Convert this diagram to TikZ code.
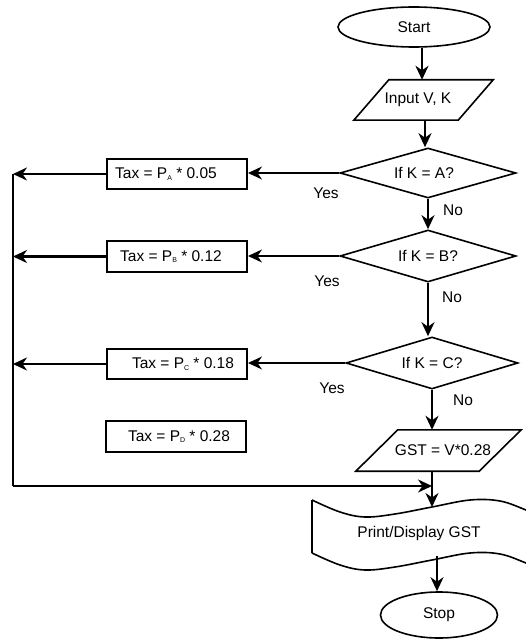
\documentclass[tikz,border=0pt]{standalone}
\usepackage{fontspec}
\setmainfont{Liberation Sans}
\usetikzlibrary{shapes.geometric,arrows.meta,calc}

% small lowered index letter used in P_A, P_B, ...
\newcommand{\psub}[1]{\raisebox{-1.8pt}{\fontsize{7}{7}\selectfont #1}}

\begin{document}
\begin{tikzpicture}[x=1pt,y=-1pt,
  every node/.style={font=\fontsize{15.5}{18}\selectfont, inner sep=0pt},
  term/.style={ellipse, draw, line width=1.6pt},
  decision/.style={diamond, draw, line width=1.6pt, aspect=3.4},
  taxbox/.style={rectangle, draw, line width=2pt, minimum width=140pt, minimum height=30pt},
  outline/.style={line width=1.6pt, line join=miter},
  tip/.style={-{Stealth[length=14pt,width=13pt,inset=4.5pt]}},
  flow/.style={line width=2.2pt, tip},
  yesline/.style={line width=1.3pt, tip},
  rail/.style={line width=2.2pt}
]
\useasboundingbox (0,0) rectangle (526,639);
\clip (0,0) rectangle (526,639);

% terminals
\node[term, minimum width=152pt, minimum height=40pt] (start) at (414,27) {Start};
\node[term, minimum width=117pt, minimum height=46pt] (stop) at (439,615) {Stop};

% input parallelogram
\node[minimum width=139pt, minimum height=40pt] (input) at (423.5,100) {\hspace*{-11pt}Input V, K};
\draw[outline] ($(input.north west)+(35,0)$) -- (input.north east)
  -- ($(input.south east)-(35,0)$) -- (input.south west) -- cycle;

% decisions
\node[decision, minimum width=176pt, minimum height=50pt] (decA) at (428,173) {\hspace*{-8pt}If K = A?};
\node[decision, minimum width=176pt, minimum height=52pt] (decB) at (428,256) {If K = B?};
\node[decision, minimum width=172pt, minimum height=52pt] (decC) at (432,363) {If K = C?};

% tax boxes
\node[taxbox] (taxA) at (177,174) {\hspace*{-22pt}Tax = P\psub{A} * 0.05};
\node[taxbox, minimum height=31pt] (taxB) at (177,256.5) {\hspace*{-12pt}Tax = P\psub{B} * 0.12};
\node[taxbox] (taxC) at (177,364) {\hspace*{12pt}Tax = P\psub{C} * 0.18};
\node[taxbox, minimum height=31pt] (taxD) at (176,436.5) {\hspace*{6pt}Tax = P\psub{D} * 0.28};

% GST parallelogram
\node[minimum width=165pt, minimum height=41pt] (gst) at (438.5,450.5) {\hspace*{9pt}GST = V*0.28};
\draw[outline] ($(gst.north west)+(42,0)$) -- (gst.north east)
  -- ($(gst.south east)-(42,0)$) -- (gst.south west) -- cycle;

% print / display tape shape
\draw[outline] plot[smooth, tension=0.6] coordinates {(312,500) (340,512) (365,517) (395,514) (432,507) (470,500) (500,501) (526,510) (545,518)};
\draw[outline] plot[smooth, tension=0.6] coordinates {(312,553) (340,565) (365,570) (395,567) (432,560) (470,553) (500,554) (526,563) (545,571)};
\draw[outline] (312,500) -- (312,553);
\node (print) at (419,533) {Print/Display GST};
\coordinate (waveTop) at (432,507);
\coordinate (waveBot) at (437,556);

% main column
\draw[flow] ([xshift=8pt]start.south) -- ([xshift=8pt]start.south |- input.north);
\draw[flow] ([xshift=1.5pt]input.south) -- ([xshift=1.5pt]input.south |- decA.north);
\draw[flow] (decA.south) -- (decB.north);
\draw[flow] (decB.south) -- (decB.south |- decC.north);
\draw[flow] (decC.south) -- (decC.south |- gst.north);
\draw[flow] (gst.south -| waveTop) -- (waveTop);
\draw[flow] (waveBot) -- (waveBot |- stop.north);

% yes branches
\draw[yesline] (decA.west) -- (decA.west -| taxA.east);
\draw[yesline] (decB.west) -- (decB.west -| taxB.east);
\draw[yesline] (decC.west) -- (decC.west -| taxC.east);

% return rail on the left
\coordinate (railTop) at (13,174);
\coordinate (railBot) at (13,486);
\draw[flow] (taxA.west) -- (taxA.west -| railTop);
\draw[flow] (taxB.west) -- (taxB.west -| railTop);
\draw[flow] (taxC.west) -- (taxC.west -| railTop);
\draw[rail] (railTop) -- (railBot);
\draw[flow] (railBot) -- (railBot -| waveTop);

% branch labels
\node (yesA) at (326,193) {Yes};
\node (noA) at (453,210) {No};
\node (yesB) at (327,281) {Yes};
\node (noB) at (452,297) {No};
\node (yesC) at (332,388) {Yes};
\node (noC) at (463,400) {No};
\end{tikzpicture}
\end{document}
